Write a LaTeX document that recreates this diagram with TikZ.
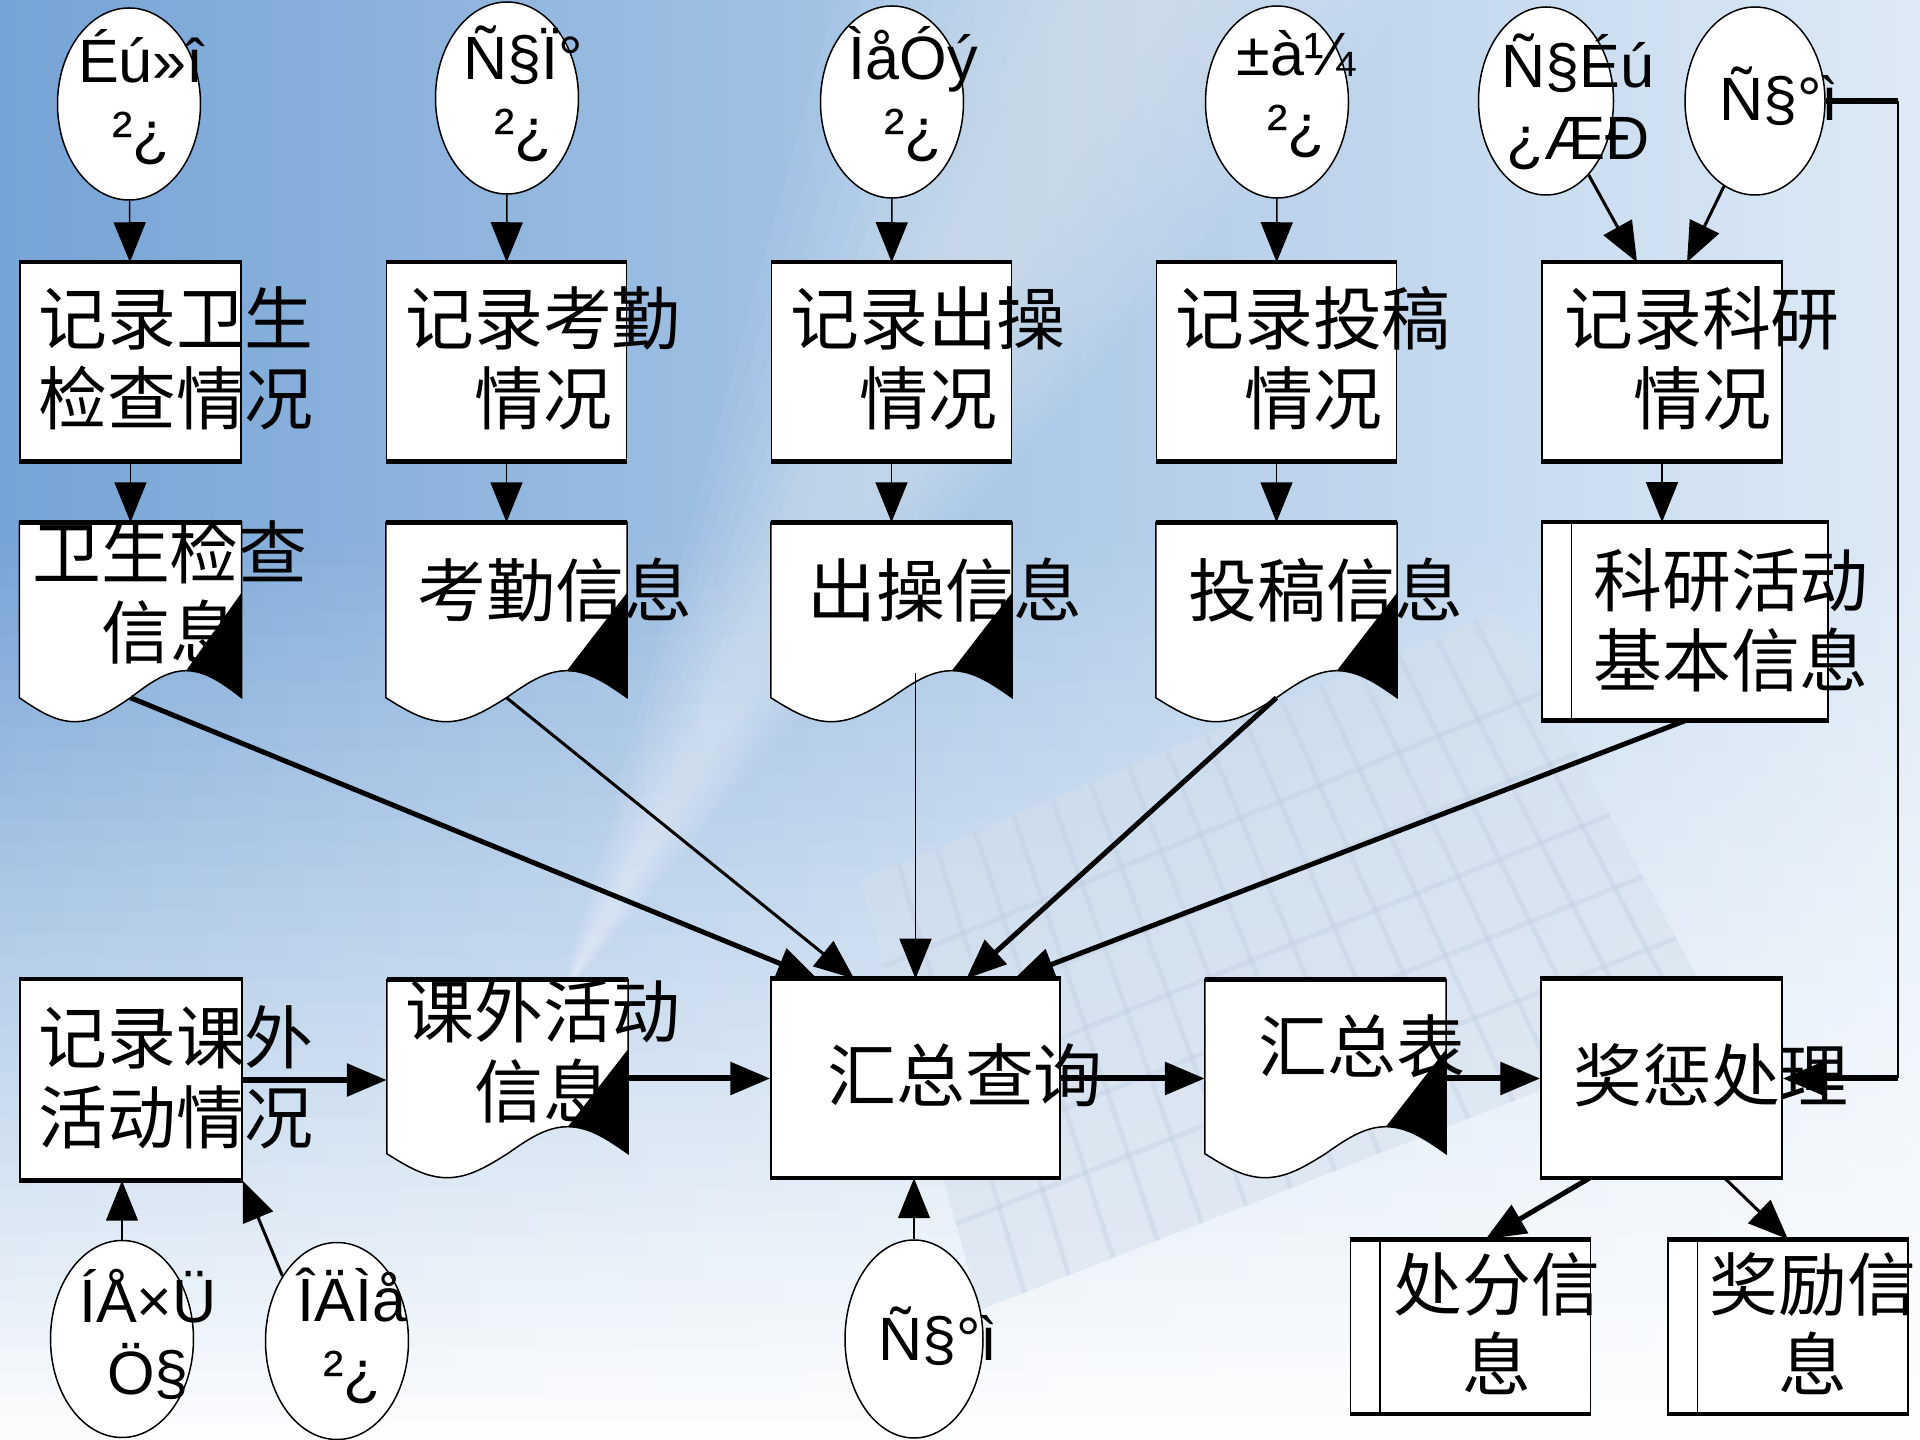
\documentclass[tikz,border=0pt]{standalone}
\usepackage{fontspec}
\setmainfont{Liberation Sans}
\newfontfamily\cjk{Noto Sans CJK SC}
\usetikzlibrary{shapes.geometric,arrows.meta,calc}

\definecolor{skydeep}{RGB}{118,164,214}
\definecolor{skypale}{RGB}{222,234,246}
\definecolor{kbdface}{RGB}{212,224,237}
\definecolor{kbdgap}{RGB}{186,202,222}

\tikzset{
  dept/.style={ellipse, draw, line width=0.15mm, fill=white, minimum width=14.3mm, minimum height=19.2mm, inner sep=0pt},
  proc/.style={rectangle, draw, line width=0.15mm, fill=white, minimum width=24mm, minimum height=19.8mm, inner sep=0pt},
  store/.style={proc, minimum height=17.3mm},
  doc/.style={rectangle, minimum width=24mm, minimum height=17.4mm, inner sep=0pt},
  zh/.style={font=\cjk\fontsize{19.6pt}{22.8pt}\selectfont, align=center, inner sep=0pt},
  lat/.style={font=\fontsize{17.4pt}{20.5pt}\selectfont, align=center, inner sep=0pt},
  arr/.style={-{Triangle[length=4mm,width=3.2mm]}, line width=0.15mm},
  medline/.style={line width=0.3mm},
  boldline/.style={line width=0.5mm},
  barline/.style={line width=0.6mm},
  rim/.style={line width=0.45mm},
}

\begin{document}
\begin{tikzpicture}[x=0.1mm, y=-0.1mm]
  \useasboundingbox (0,0) rectangle (1920,1440);
  % sky, fading to white towards the bottom
  \shade[left color=skydeep, right color=skypale] (0,0) rectangle (1920,1440);
  \foreach \w in {0,25,...,225}
    \fill[white, opacity=0.045] (560,1000) -- ({1060-\w},0) -- ({1180+\w},0) -- cycle;
  \foreach \i [evaluate=\i as \op using \i/40] in {0,...,39}
    \fill[white, opacity=\op] (0,{520+23*\i}) rectangle (1920,{543+23*\i});
  % keyboard
  \coordinate (kb1) at (860,880);
  \coordinate (kb2) at (1500,610);
  \coordinate (kb3) at (1720,1020);
  \coordinate (kb4) at (980,1310);
  \fill[kbdface, opacity=0.5] (kb1) -- (kb2) -- (kb3) -- (kb4) -- cycle;
  \foreach \v in {0.2,0.35,...,0.95}
    \draw[kbdgap, opacity=0.3, line width=0.5mm] ($(kb1)!\v!(kb4)$) -- ($(kb2)!\v!(kb3)$);
  \foreach \u in {0.06,0.12,...,0.96}
    \draw[kbdgap, opacity=0.3, line width=0.5mm] ($(kb1)!\u!(kb2)$) -- ($(kb4)!\u!(kb3)$);

  % departments
  \node[dept] (e1) at (129,104) {};
  \node[dept] (e2) at (507,98) {};
  \node[dept] (e3) at (892,102) {};
  \node[dept] (e4) at (1277,102) {};
  \node[dept, minimum width=13.5mm, minimum height=18.8mm] (e5) at (1546,101) {};
  \node[dept, minimum width=14mm, minimum height=18.8mm] (e6) at (1755,101) {};
  \node[dept, minimum height=19.7mm] (e7) at (122,1339) {};
  \node[dept, minimum height=19.7mm] (e8) at (337,1341) {};
  \node[dept, minimum width=13.8mm, minimum height=19.8mm] (e9) at (914,1339) {};

  % processing steps
  \node[proc, minimum width=22.1mm] (p1) at (130.5,362) {};
  \node[proc] (p2) at (506.5,362) {};
  \node[proc] (p3) at (891.5,362) {};
  \node[proc] (p4) at (1276.5,362) {};
  \node[proc] (p5) at (1662,362) {};
  \node[proc, minimum width=22.2mm, minimum height=20mm] (p6) at (131,1080) {};
  \node[proc, minimum width=28.9mm] (q) at (915.5,1078.5) {};
  \node[proc, minimum width=24.1mm] (r) at (1661.5,1078.5) {};

  % documents and stored data
  \node[doc, minimum width=22.1mm] (d1) at (130.5,610) {};
  \node[doc] (d2) at (506.5,610) {};
  \node[doc] (d3) at (891.5,610) {};
  \node[doc] (d4) at (1276.5,610) {};
  \node[doc, minimum height=17.3mm] (d5) at (507.5,1066.5) {};
  \node[doc, minimum height=17.3mm] (d6) at (1325.5,1066.5) {};
  \node[store, minimum width=28.6mm, minimum height=19.7mm] (k) at (1685,621.5) {};
  \node[store] (s1) at (1470.5,1326.5) {};
  \node[store] (s2) at (1788,1326.5) {};

  \foreach \dd in {d1,d2,d3,d4,d5,d6}
    \draw[line width=0.15mm, fill=white] (\dd.north west) -- (\dd.north east) -- (\dd.south east)
      sin ($(\dd.south west)!0.75!(\dd.south east)+(0,-27)$)
      cos ($(\dd.south west)!0.5!(\dd.south east)$)
      sin ($(\dd.south west)!0.25!(\dd.south east)+(0,24)$)
      cos (\dd.south west) -- cycle;
  \foreach \dd in {d1,d2,d3,d4,d5,d6}
    \draw[rim] (\dd.north west) -- (\dd.north east);
  \foreach \n in {p1,p2,p3,p4,p5,p6,q,r,k,s1,s2}
    \draw[rim] (\n.north west) -- (\n.north east) (\n.south west) -- (\n.south east);
  \foreach \n in {k,s1,s2}
    \draw[line width=0.15mm] ([xshift=3mm]\n.north west) -- ([xshift=3mm]\n.south west);

  \node[lat] (e1t) at (141,97) {Éú»î\\²¿};
  \node[lat] (e2t) at (523,94) {Ñ§Ï°\\²¿};
  \node[lat] (e3t) at (913,94) {ÌåÓý\\²¿};
  \node[lat] (e4t) at (1296,94) {±à¼\\²¿};
  \node[lat] (e5t) at (1578,102) {Ñ§Éú\\¿ÆÐ};
  \node[lat] (e6t) at (1779,96) {Ñ§°ì};
  \node[lat] (e7t) at (148,1334) {ÍÅ×Ü\\Ö§};
  \node[lat] (e8t) at (352,1336) {ÎÄÌå\\²¿};
  \node[lat] (e9t) at (938,1336) {Ñ§°ì};

  \node[zh] (p1t) at (176,358) {记录卫生\\检查情况};
  \node[zh] (p2t) at (543,358) {记录考勤\\情况};
  \node[zh] (p3t) at (928,358) {记录出操\\情况};
  \node[zh] (p4t) at (1313,358) {记录投稿\\情况};
  \node[zh] (p5t) at (1702,358) {记录科研\\情况};
  \node[zh] (d1t) at (170,592) {卫生检查\\信息};
  \node[zh] (d2t) at (555,590) {考勤信息};
  \node[zh] (d3t) at (945,590) {出操信息};
  \node[zh] (d4t) at (1326,590) {投稿信息};
  \node[zh] (kt) at (1731,620) {科研活动\\基本信息};
  \node[zh] (p6t) at (176,1077) {记录课外\\活动情况};
  \node[zh] (d5t) at (543,1051) {课外活动\\信息};
  \node[zh] (qt) at (965,1075) {汇总查询};
  \node[zh] (d6t) at (1362,1046) {汇总表};
  \node[zh] (rt) at (1711,1075) {奖惩处理};
  \node[zh] (s1t) at (1497,1324) {处分信\\息};
  \node[zh] (s2t) at (1813,1324) {奖励信\\息};

  % folded corners
  \foreach \dd in {d1,d2,d3,d4,d5,d6}
    \fill ($(\dd.north east)!0.4!(\dd.south east)$)
      -- ($(\dd.south west)!0.75!(\dd.south east)+(0,-27)$)
      cos (\dd.south east) -- cycle;

  \path[arr]
    (e1) edge (p1)
    (e2) edge (p2)
    (e3) edge (p3)
    (e4) edge (p4)
    (e5.300) edge[medline] ([xshift=-2.5mm]p5.north)
    (e6.250) edge[medline] ([xshift=2.5mm]p5.north)
    (p1) edge (d1)
    (p2) edge (d2)
    (p3) edge (d3)
    (p4) edge (d4)
    (p5.south) edge (p5.south |- k.north)
    (d1.south) edge[boldline] ([xshift=4.7mm]q.north west)
    (d2.south) edge[medline] ([xshift=8.4mm]q.north west)
    ($(q.north |- d3.south)+(0,-25)$) edge (q.north)
    (d4.south) edge[boldline] ([xshift=19.6mm]q.north west)
    (k.south) edge[boldline] ([xshift=24.4mm]q.north west)
    (p6.east) edge[barline] (d5.west |- p6.east)
    (d5.east |- q.west) edge[barline] (q.west)
    (q.east) edge[barline] (d6.west |- q.east)
    (d6.east |- r.west) edge[barline] (r.west)
    (e7.north) edge (e7.north |- p6.south)
    (e8.130) edge[medline] (p6.south east)
    (e9.north) edge (e9.north |- q.south)
    ([xshift=4.9mm]r.south west) edge[boldline] ([xshift=1.5mm]s1.north)
    ([xshift=-5.8mm]r.south east) edge[medline] (s2.north);

  % feedback from the student office
  \coordinate (fb1) at (1898,101);
  \coordinate (fb2) at (1898,1078.5);
  \draw[barline] (e6.east) -- (fb1);
  \draw[line width=0.2mm] (fb1) -- (fb2);
  \draw[arr, barline] (fb2) -- (r.east);
\end{tikzpicture}
\end{document}
